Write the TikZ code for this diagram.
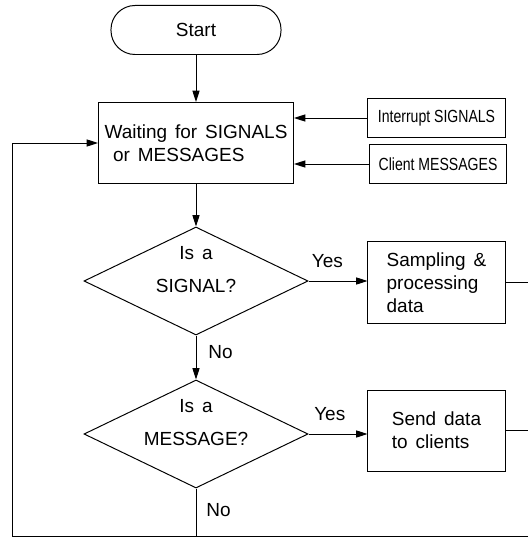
\documentclass[tikz,border=0pt]{standalone}
\usepackage{fontspec}
\setmainfont[WordSpace=1.5]{Liberation Sans}
\newfontfamily\narrowfont[FakeStretch=0.8]{Liberation Sans}
\usetikzlibrary{arrows.meta}
\usetikzlibrary{shapes.geometric}
\tikzset{
    tnode/.style = {align=left, inner sep=0pt, font=\fontsize{13.5}{16.5}\selectfont},
    term/.style = {tnode, align=center, rectangle, rounded corners=0.6cm, draw=black, minimum width=4.25cm, minimum height=1.225cm},
    proc/.style = {tnode, rectangle, draw=black, minimum width=3.425cm, minimum height=2.025cm},
    src/.style = {tnode, rectangle, draw=black, minimum width=3.425cm, minimum height=0.96cm, font=\narrowfont\fontsize{12.5}{15}\selectfont},
    decide/.style = {tnode, align=center, diamond, aspect=2.07, draw=black, minimum width=5.6cm, minimum height=2.7cm, text depth=0.6cm, inner ysep=-0.3cm},
    lbl/.style = {inner sep=0pt, font=\fontsize{13.5}{16.5}\selectfont}
}

\begin{document}
\begin{tikzpicture}[x=0.025cm, y=-0.025cm, line width=0.7pt, >={Triangle[length=8pt,width=5pt]}]
    \useasboundingbox (0,0) rectangle (528,538);
    \node [term] (start) at (196,30) {Start};
    \node [proc, minimum width=4.875cm] (wait) at (196,143) {Waiting for SIGNALS\\\hspace{0.45em}or MESSAGES};
    \node [src] (intr) at (436.5,118) {Interrupt SIGNALS};
    \node [src] (client) at (438,164) {Client MESSAGES};
    \node [decide] (sig) at (196,281) {Is a\\[7pt]SIGNAL?};
    \node [proc] (samp) at (436.5,282.5) {Sampling \&\\processing\\data};
    \node [decide] (msg) at (196,434) {Is a\\[7pt]MESSAGE?};
    \node [proc] (send) at (436.5,430.5) {Send data\\to clients};
    % loop ends
    \coordinate (sampout) at (528,282.5);
    \coordinate (sendout) at (528,430.5);
    \coordinate (botr) at (528,536);
    \coordinate (botl) at (12,536);
    \coordinate (msgout) at (196,536);
    \coordinate (back) at (12,143);

    \draw [->] (start) -- (wait);
    \draw [->] (intr.west) -- (intr.west -| wait.east);
    \draw [->] (client.west) -- (client.west -| wait.east);
    \draw [->] (wait) -- (sig);
    \draw [->] (sig) -- node [lbl, pos=0.32, above=0.31cm] {Yes} (sig.east -| samp.west);
    \draw [->] (sig) -- node [lbl, pos=0.38, right=0.3cm] {No} (msg);
    \draw [->] (msg) -- node [lbl, pos=0.36, above=0.31cm] {Yes} (msg.east -| send.west);
    \draw (msg) -- node [lbl, pos=0.46, right=0.25cm] {No} (msgout);
    \draw (samp.east) -- (sampout);
    \draw (send.east) -- (sendout);
    \draw [->] (botr) -- (botl) -- (back) -- (back -| wait.west);
\end{tikzpicture}
\end{document}
